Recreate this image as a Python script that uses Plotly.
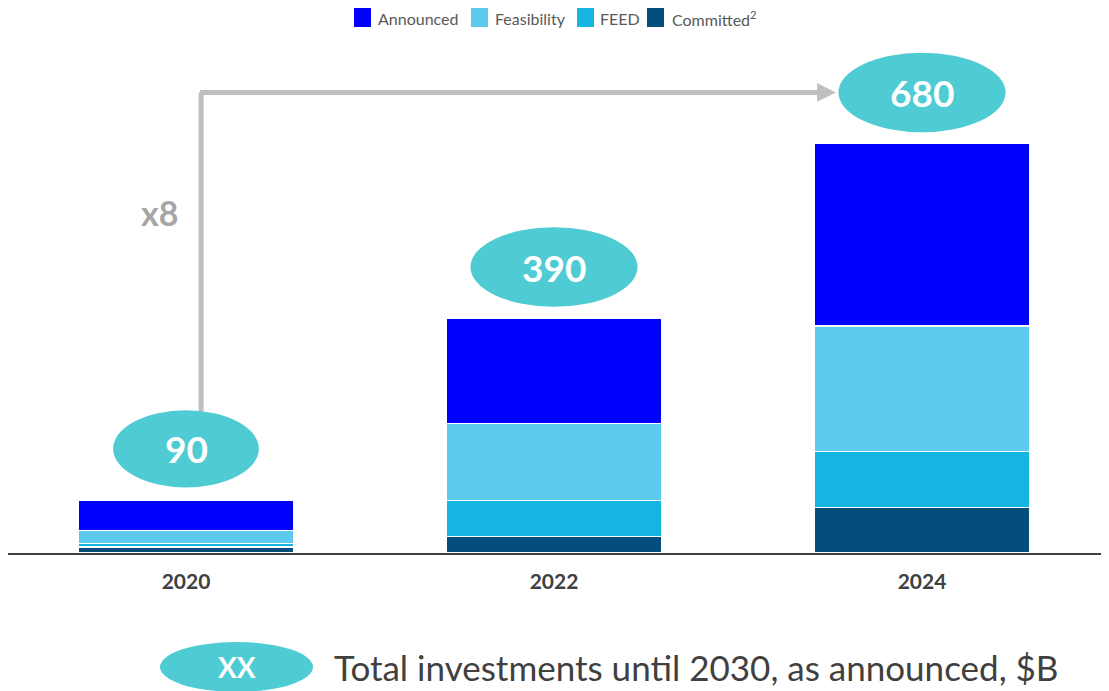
import plotly.graph_objects as go

years = ['2020', '2022', '2024']
committed = [10, 28, 76]
feed = [6, 59, 92]
feasibility = [21, 128, 209]
announced = [51, 175, 303]
totals_label = ['90', '390', '680']

# stacked bottom -> top
series = [
    ('Committed<sup>2</sup>', committed, '#044D7D'),
    ('FEED', feed, '#16B5E1'),
    ('Feasibility', feasibility, '#5CC9EF'),
    ('Announced', announced, '#0000FF'),
]

BUBBLE = '#4ECBD3'
ARROW = '#BFBFBF'
FONT = 'Lato'

W, H = 1109, 691
ML, MR, MT, MB = 0, 11, 0, 146
PW, PH = W - ML - MR, H - MT - MB


def px_x(p):
    # figure pixel -> paper x
    return (p - ML) / PW


def px_y(p):
    # figure pixel (from top) -> paper y
    return (PH + MT - p) / PH


fig = go.Figure()
for name, vals, color in series:
    fig.add_trace(go.Bar(
        x=years, y=vals, name=name, showlegend=False,
        marker=dict(color=color, line=dict(color='white', width=1.2)),
    ))

# total bubbles above each bar
stack_tops = [sum(v) for v in zip(committed, feed, feasibility, announced)]
for i, (top, lab) in enumerate(zip(stack_tops, totals_label)):
    half_w, half_h = (0.198, 64) if i == 0 else (0.227, 66)
    cy = top + 85
    fig.add_shape(type='circle', xref='x', yref='y',
                  x0=i - half_w, x1=i + half_w, y0=cy - half_h, y1=cy + half_h,
                  fillcolor=BUBBLE, line=dict(width=0), layer='above')
    fig.add_annotation(x=i, y=cy, text=f'<b>{lab}</b>', showarrow=False,
                       font=dict(family=FONT, size=37, color='white'))

# growth arrow from 2020 bubble to 2024 bubble
arrow_y = stack_tops[2] + 85
fig.add_shape(type='line', xref='x', yref='y',
              x0=0.041, x1=0.041, y0=stack_tops[0] + 85 + 62, y1=arrow_y,
              line=dict(color=ARROW, width=5), layer='below')
fig.add_annotation(x=1.766, y=arrow_y, ax=0.034, ay=arrow_y,
                   xref='x', yref='y', axref='x', ayref='y',
                   text='', showarrow=True, arrowhead=2, arrowsize=0.75,
                   arrowwidth=5, arrowcolor=ARROW, standoff=0)
fig.add_annotation(x=-0.071, y=566, text='<b>x8</b>', showarrow=False,
                   font=dict(family=FONT, size=34, color='#A6A6A6'))

# legend row at the top
legend_items = [
    ('Announced', '#0000FF', 346, 368),
    ('Feasibility', '#5CC9EF', 463, 485),
    ('FEED', '#16B5E1', 569, 590),
    ('Committed<sup>2</sup>', '#044D7D', 639, 662),
]
for label, color, sq_x, tx_x in legend_items:
    fig.add_shape(type='rect', xref='paper', yref='paper',
                  x0=px_x(sq_x), x1=px_x(sq_x + 17), y0=px_y(19), y1=px_y(0),
                  fillcolor=color, line=dict(width=0))
    fig.add_annotation(xref='paper', yref='paper', x=px_x(tx_x), y=px_y(10),
                       xanchor='left', yanchor='middle', text=label,
                       showarrow=False,
                       font=dict(family=FONT, size=16, color='#595959'))

# footnote key
fig.add_shape(type='circle', xref='paper', yref='paper',
              x0=px_x(152), x1=px_x(305), y0=px_y(684), y1=px_y(634),
              fillcolor=BUBBLE, line=dict(width=0))
fig.add_annotation(xref='paper', yref='paper', x=px_x(229), y=px_y(659),
                   xanchor='center', yanchor='middle',
                   text='<b>XX</b>', showarrow=False,
                   font=dict(family=FONT, size=28, color='white'))
fig.add_annotation(xref='paper', yref='paper', x=px_x(324), y=px_y(659),
                   xanchor='left', yanchor='middle',
                   text='Total investments until 2030, as announced, $B',
                   showarrow=False, font=dict(family=FONT, size=35, color='#404040'))

fig.update_layout(
    width=W, height=H,
    barmode='stack', bargap=0.416,
    plot_bgcolor='white', paper_bgcolor='white',
    margin=dict(l=ML, r=MR, t=MT, b=MB),
    font=dict(family=FONT),
    showlegend=False,
)
fig.update_xaxes(
    range=[-178 / 368, -178 / 368 + PW / 368],
    showline=True, linecolor='#404040', linewidth=2,
    ticks='outside', ticklen=9, tickcolor='rgba(0,0,0,0)',
    tickfont=dict(family=FONT, size=21, color='#404040'),
    tickprefix='<b>', ticksuffix='</b>',
)
fig.update_yaxes(range=[0, PH / 0.602], visible=False, showgrid=False)

fig.write_html('out.html')
